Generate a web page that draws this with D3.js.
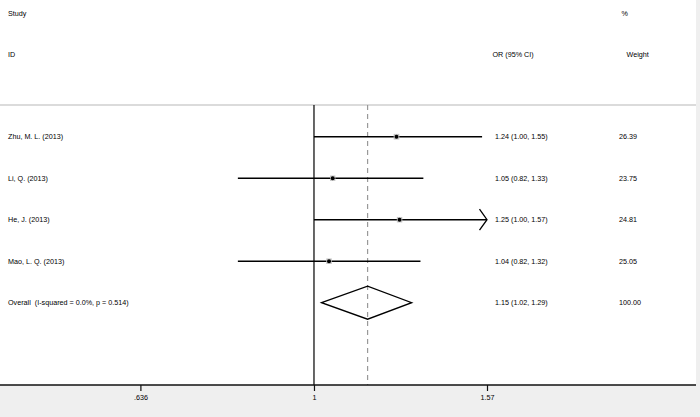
<!DOCTYPE html>
<html><head><meta charset="utf-8">
<script src="https://cdn.jsdelivr.net/npm/d3@7/dist/d3.min.js"></script>
<style>html,body{margin:0;padding:0;background:#fff;}svg{display:block;font-family:"Liberation Sans",Arial,sans-serif;-webkit-font-smoothing:antialiased;}text{white-space:pre;}</style>
</head><body><svg id="c" width="700" height="417"></svg>
<script>
const studies = ["Zhu, M. L. (2013)", "Li, Q. (2013)", "He, J. (2013)", "Mao, L. Q. (2013)"];
const orValues = [1.24, 1.05, 1.25, 1.04];
const ciLow = [1.00, 0.82, 1.00, 0.82];
const ciHigh = [1.55, 1.33, 1.57, 1.32];
const orLabels = ["1.24 (1.00, 1.55)", "1.05 (0.82, 1.33)", "1.25 (1.00, 1.57)", "1.04 (0.82, 1.32)"];
const weights = [26.39, 23.75, 24.81, 25.05];
const overallLabel = "Overall  (I-squared = 0.0%, p = 0.514)";
const overallOR = 1.15, overallLow = 1.02, overallHigh = 1.29;
const overallText = "1.15 (1.02, 1.29)";
const overallWeight = "100.00";
const tickValues = [0.636, 1, 1.57];
const tickLabels = [".636", "1", "1.57"];

const svg = d3.select("#c");
const W = 700, H = 417;
const fs = 7.2;
const x = d3.scaleLog().domain([0.636, 1.57]).range([140.4, 487]);
const y = d3.scaleLinear().domain([0, 4]).range([136.7, 302.7]);
const axisY = 385, topY = 105;

svg.append("rect").attr("x",0).attr("y",0).attr("width",W).attr("height",H).attr("fill","#fff");
svg.append("rect").attr("x",0).attr("y",axisY).attr("width",W).attr("height",H-axisY).attr("fill","#efefef");
svg.append("rect").attr("x",696).attr("y",0).attr("width",W-696).attr("height",H).attr("fill","#efefef");

svg.append("line").attr("x1",0).attr("x2",696).attr("y1",topY).attr("y2",topY).attr("stroke","#cfcfcf").attr("stroke-width",1.5);

function txt(s, xx, yy, anchor){
  svg.append("text").attr("x",xx).attr("y",yy).attr("font-size",fs).attr("fill","#000")
    .attr("text-anchor",anchor||"start").attr("dominant-baseline","central").text(s);
}
txt("Study", 8, 13);
txt("ID", 8, 54);
txt("%", 621.5, 13);
txt("Weight", 626.5, 54);
txt("OR (95% CI)", 492.5, 54);

svg.append("line").attr("x1",x(1)).attr("x2",x(1)).attr("y1",topY).attr("y2",axisY).attr("stroke","#000").attr("stroke-width",1.2);
svg.append("line").attr("x1",x(overallOR)).attr("x2",x(overallOR)).attr("y1",topY).attr("y2",axisY)
  .attr("stroke","#999").attr("stroke-width",1.2).attr("stroke-dasharray","5,4");

const xMax = x.domain()[1];
studies.forEach((s,i)=>{
  const yy = y(i);
  txt(s, 8, yy);
  const hiClamped = Math.min(ciHigh[i], xMax);
  svg.append("line").attr("x1",x(ciLow[i])).attr("x2",x(hiClamped)).attr("y1",yy).attr("y2",yy)
    .attr("stroke","#000").attr("stroke-width",1.5);
  if (ciHigh[i] >= xMax) {
    const tx = x(xMax);
    svg.append("path").attr("d",`M${tx-7.5},${yy-10.5}L${tx},${yy}L${tx-7.5},${yy+10.5}`)
      .attr("fill","none").attr("stroke","#000").attr("stroke-width",1.3);
  }
  const side = Math.sqrt(weights[i]) * 1.1;
  svg.append("rect").attr("x",x(orValues[i])-side/2).attr("y",yy-side/2).attr("width",side).attr("height",side)
    .attr("fill","#c4c4c4");
  svg.append("circle").attr("cx",x(orValues[i])).attr("cy",yy).attr("r",2).attr("fill","#000");
  txt(orLabels[i], 495, yy);
  txt(weights[i].toFixed(2), 619, yy);
});

const oy = y(4);
txt(overallLabel, 8, oy);
const dh = 16.5;
svg.append("path").attr("d",`M${x(overallLow)},${oy}L${x(overallOR)},${oy-dh}L${x(overallHigh)},${oy}L${x(overallOR)},${oy+dh}Z`)
  .attr("fill","none").attr("stroke","#000").attr("stroke-width",1.3);
txt(overallText, 495, oy);
txt(overallWeight, 619, oy);

svg.append("line").attr("x1",0).attr("x2",696).attr("y1",axisY).attr("y2",axisY).attr("stroke","#111").attr("stroke-width",1.3);
const ax = d3.axisBottom(x).tickValues(tickValues).tickFormat((d,i)=>tickLabels[i]).tickSize(6).tickPadding(4);
const g = svg.append("g").attr("transform",`translate(0,${axisY})`).call(ax);
g.select(".domain").remove();
g.selectAll(".tick line").attr("stroke","#111").attr("stroke-width",1.2);
g.selectAll(".tick text").attr("font-size",fs).attr("font-family","Liberation Sans, Arial, sans-serif").attr("fill","#000");
</script></body></html>
